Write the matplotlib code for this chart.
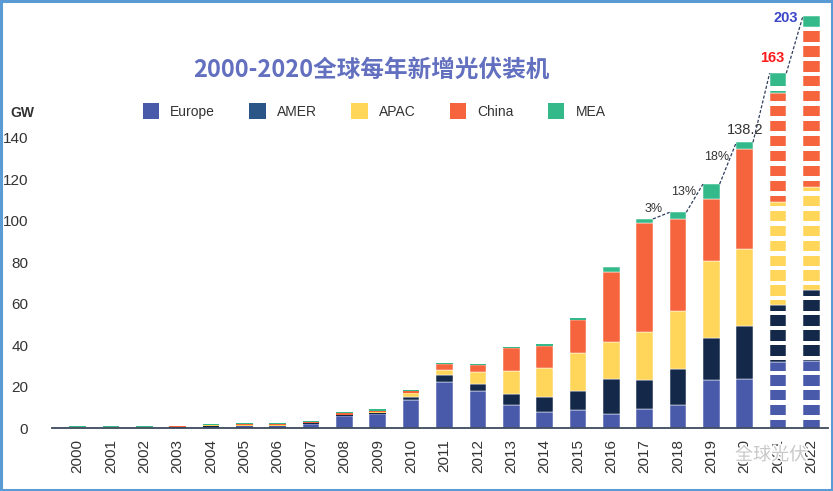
import numpy as np
import matplotlib
matplotlib.use('Agg')
import matplotlib.pyplot as plt
from matplotlib.patches import Patch, Rectangle
import matplotlib.patheffects as pe

# Данные (GW)
years = [str(y) for y in range(2000, 2023)]
europe = [0.2, 0.2, 0.2, 0.3, 0.8, 1.1, 1.1, 2.1, 5.9, 6.7, 13.5, 22.5, 18.1,
          11.4, 7.7, 9.0, 7.0, 9.3, 11.4, 23.3, 23.6, 32.1, 32.4]
amer = [0.1, 0.1, 0.1, 0.1, 0.2, 0.2, 0.2, 0.3, 0.5, 0.8, 1.6, 3.0, 3.2,
        5.1, 7.2, 9.0, 16.7, 13.8, 17.2, 20.0, 25.8, 27.3, 34.2]
apac = [0.4, 0.4, 0.4, 0.4, 0.4, 0.5, 0.5, 0.2, 0.2, 0.4, 2.1, 2.4, 5.7,
        10.9, 14.2, 18.4, 17.8, 23.4, 27.9, 37.1, 36.8, 49.7, 49.6]
china = [0.1, 0.1, 0.1, 0.1, 0.1, 0.2, 0.2, 0.3, 0.6, 0.6, 0.6, 2.9, 3.3,
         11.1, 10.5, 15.8, 34.0, 52.5, 44.3, 30.1, 48.1, 52.2, 76.8]
mea = [0.4, 0.4, 0.4, 0.4, 0.4, 0.6, 0.6, 0.5, 0.7, 0.6, 0.5, 0.8, 0.8,
       0.5, 1.2, 0.8, 2.1, 1.8, 3.2, 7.1, 3.4, 9.7, 5.6]

series_names = ['Europe', 'AMER', 'APAC', 'China', 'MEA']
bar_colors = ['#4a5aab', '#14294a', '#ffd65a', '#f5643c', '#34b98a']
legend_colors = ['#4a5aab', '#2b5487', '#ffd65a', '#f5643c', '#34b98a']

growth_labels = ['3%', '13%', '18%']      # между 2017-2018, 2018-2019, 2019-2020
total_labels = ['138.2', '163', '203']    # 2020, 2021, 2022
forecast_years = ['2021', '2022']

title = '2000-2020全球每年新增光伏装机'


def main():
    plt.rcParams['font.family'] = ['Liberation Sans', 'Noto Sans CJK SC', 'DejaVu Sans']

    fig = plt.figure(figsize=(8.33, 4.91), dpi=100)
    ax = fig.add_axes([0.0624, 0.1277, 0.9316, 0.862])

    x = np.arange(len(years))
    width = 0.5
    bottom = np.zeros(len(years))
    data = [europe, amer, apac, china, mea]
    for vals, color in zip(data, bar_colors):
        vals = np.array(vals)
        # у маленьких сегментов белую обводку не рисуем, иначе их не видно
        lws = [0.35 if v >= 1.5 else 0 for v in vals]
        ax.bar(x, vals, width, bottom=bottom, color=color,
               edgecolor='white', linewidth=lws, zorder=2)
        bottom += vals
    tops = bottom

    # прогнозные столбцы — с белыми полосами
    for yr in forecast_years:
        i = years.index(yr)
        gaps = np.arange(4.0, tops[i] - 2, 7.2)
        ax.bar([i] * len(gaps), 2.2, width + 0.04, bottom=gaps,
               color='white', linewidth=0, zorder=3)

    # пунктир по вершинам столбцов 2017-2022
    for i in range(years.index('2017'), len(years) - 1):
        ax.plot([x[i] + width / 2, x[i + 1] - width / 2], [tops[i], tops[i + 1]],
                color='#2f3e5c', linestyle=(0, (2.5, 1.5)), linewidth=0.9, zorder=4)

    # подписи роста
    for k, lab in enumerate(growth_labels):
        i = years.index('2017') + k
        ax.text(i + 0.55, (tops[i] + tops[i + 1]) / 2 + 3, lab,
                ha='right', va='center', fontsize=9, color='#333333', zorder=5)

    i20 = years.index('2020')
    ax.text(i20, tops[i20] + 2.5, total_labels[0], ha='center', va='bottom',
            fontsize=10.5, color='#333333', zorder=5)
    i21 = years.index('2021')
    ax.text(i21 + 0.2, tops[i21] + 4, total_labels[1], ha='right', va='bottom',
            fontsize=10.5, fontweight='bold', color='#ff1a1a', zorder=5)
    i22 = years.index('2022')
    ax.text(i22 - 0.4, tops[i22] - 4.5, total_labels[2], ha='right', va='bottom',
            fontsize=10.5, fontweight='bold', color='#3c46c8', zorder=5)

    # оси
    ax.set_xlim(-0.77, 22.5)
    ax.set_ylim(0, 203.8)
    ax.set_xticks(x)
    ax.set_xticklabels(years, rotation=90, fontsize=11, color='#333333')
    ax.set_yticks(range(0, 141, 20))
    ax.tick_params(axis='y', length=0, pad=17, labelsize=11, labelcolor='#333333')
    ax.tick_params(axis='x', length=0, pad=8)
    for s in ['top', 'right', 'left']:
        ax.spines[s].set_visible(False)
    ax.spines['bottom'].set_color('#3c4a5e')
    ax.spines['bottom'].set_linewidth(1.3)
    ax.spines['bottom'].set_zorder(6)

    fig.text(0.012, 1 - 113 / 491, 'GW', fontsize=10, fontweight='bold',
             color='#333333', ha='left', va='center')

    # заголовок
    fig.text(371 / 833, 1 - 70 / 491, title, ha='center', va='center',
             fontsize=17, fontweight='bold', color='#6370bf',
             family=['Noto Sans CJK SC', 'DejaVu Sans'])

    # легенда
    handles = [Patch(facecolor=c, edgecolor='none', label=n)
               for n, c in zip(series_names, legend_colors)]
    fig.legend(handles=handles, ncol=5, loc='center',
               bbox_to_anchor=(374 / 833, 1 - 111 / 491), frameon=False,
               fontsize=10, handlelength=1.2, handleheight=1.4,
               handletextpad=0.8, columnspacing=2.45, labelcolor='#333333')

    # водяной знак
    fig.text(771 / 833, 1 - 455 / 491, '全球光伏', ha='center', va='center',
             fontsize=13, color='#c8c8c8', family=['Noto Sans CJK SC'],
             path_effects=[pe.withStroke(linewidth=2, foreground='white')],
             zorder=10)

    # рамка
    fig.patches.append(Rectangle((0.0018, 0.003), 0.9964, 0.994,
                                 transform=fig.transFigure, fill=False,
                                 edgecolor='#5b9bd5', linewidth=2.2))

    fig.savefig('out.png', dpi=100)


if __name__ == '__main__':
    main()
